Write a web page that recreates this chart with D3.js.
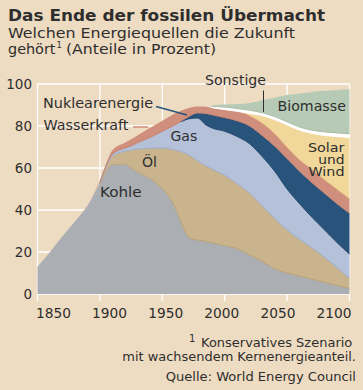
<!DOCTYPE html>
<html>
<head>
<meta charset="utf-8">
<script src="https://cdn.jsdelivr.net/npm/d3@7"></script>
<style>
  html, body { margin: 0; padding: 0; background: #eedcc2; }
  svg { display: block; font-family: "DejaVu Sans", Verdana, sans-serif; }
  text { fill: #2e2e2e; }
</style>
</head>
<body>
<svg id="chart" width="363" height="390"></svg>
<script>
// Jahre und Anteile (Prozent) je Energieträger
const years = [1850, 1860, 1870, 1880, 1890, 1900, 1910, 1920, 1925, 1930, 1940, 1950, 1960, 1965, 1972, 1978, 1985, 1990, 2000, 2010, 2020, 2030, 2040, 2050, 2060, 2070, 2080, 2090, 2100];
const kohle      = [13, 20, 27.5, 34.5, 42, 52.5, 61.5, 61.8, 60, 58, 55, 50, 41.5, 34, 26.5, 25.7, 25, 24.3, 23, 21.5, 18.5, 15.5, 12, 10, 8.5, 7, 5.5, 4, 2.7];
const oel        = [0, 0, 0, 0, 0, 0.5, 4, 6.2, 8.5, 11, 14.4, 19.5, 27.1, 33.8, 39.5, 37.8, 36, 35.2, 33.5, 31, 29.5, 26.5, 24, 20.5, 17.5, 15, 12, 8.5, 4.8];
const gas        = [0, 0, 0, 0, 0, 0.3, 1, 1.5, 2, 3, 5.1, 8, 11.9, 14.2, 17.5, 20.3, 19.5, 19.5, 21, 22.5, 23.5, 23.5, 22.5, 19.5, 17, 14.5, 13, 12, 11.5];
const nuklear    = [0, 0, 0, 0, 0, 0, 0, 0, 0, 0, 0, 0, 0, 0.3, 1.3, 2.4, 5.5, 6.3, 6.5, 7.5, 8.5, 10, 12, 14.5, 15.5, 16.5, 17.5, 18.5, 19.5];
const wasser     = [0, 0, 0, 0, 0, 0.7, 2, 2.5, 3.2, 3.5, 4.5, 5, 5.5, 5, 3.9, 3.1, 3.3, 3.4, 3.8, 4.5, 5, 6, 6, 5.5, 5.5, 6.5, 6.5, 7, 7];
const solarWind  = [0, 0, 0, 0, 0, 0, 0, 0, 0, 0, 0, 0, 0, 0, 0, 0, 0, 0, 0, 0, 1, 3.5, 6.5, 10.5, 14, 17, 21, 25, 29];
const sonstige   = [0, 0, 0, 0, 0, 0, 0, 0, 0, 0, 0, 0, 0, 0, 0, 0, 0, 0.6, 1.2, 1.3, 1.5, 1.3, 1.5, 1.5, 1.5, 1.5, 1.7, 1.7, 1.8];
const biomasse   = [0, 0, 0, 0, 0, 0, 0, 0, 0, 0, 0, 0, 0, 0, 0, 0, 0, 0.5, 1.2, 2.2, 3.5, 6, 9, 12.8, 16, 18.2, 19.6, 20.5, 21.2];

const keys = ["Kohle", "Öl", "Gas", "Nuklearenergie", "Wasserkraft", "Solar und Wind", "Sonstige", "Biomasse"];
const seriesValues = [kohle, oel, gas, nuklear, wasser, solarWind, sonstige, biomasse];
const colors = ["#abaeb3", "#c9b48e", "#b4c1d9", "#28537b", "#d08f7c", "#f2d79a", "#ffffff", "#b7cab5"];
const edgeColors = ["#9c9fa5", "#b8a27c", "#9eadc8", "#234a70", "#c58270", "#e8cb88", "#ffffff", "#aabfa8"];

const xTicks = [1850, 1900, 1950, 2000, 2050, 2100];
const yTicks = [0, 20, 40, 60, 80, 100];

const table = years.map((yr, i) => {
  const row = { year: yr };
  keys.forEach((k, j) => (row[k] = seriesValues[j][i]));
  return row;
});

const svg = d3.select("#chart");
const x = d3.scaleLinear().domain([1850, 2100]).range([37.5, 349.5]);
const y = d3.scaleLinear().domain([0, 100]).range([294, 84]);
// Jahreszahlen stehen gleichmäßig verteilt, nicht exakt unter den Strichen
const xLabel = d3.scaleLinear().domain([1850, 2100]).range([53.5, 334]);

/** Stretch a text to the width it has in the original (Verdana is wider). */
function fit(sel, width) {
  return sel.attr("textLength", width).attr("lengthAdjust", "spacingAndGlyphs");
}

/* --- Titel --- */
fit(svg.append("text").attr("x", 8).attr("y", 21)
  .style("font-weight", "bold").style("font-size", "16px")
  .text("Das Ende der fossilen Übermacht"), 317);
fit(svg.append("text").attr("x", 8).attr("y", 38)
  .style("font-size", "14px")
  .text("Welchen Energiequellen die Zukunft"), 287);
fit(svg.append("text").attr("x", 8).attr("y", 53.5)
  .style("font-size", "14px").text("gehört"), 47.5);
svg.append("text").attr("x", 56.5).attr("y", 47.5)
  .style("font-size", "8.5px").text("1");
fit(svg.append("text").attr("x", 66).attr("y", 53.5)
  .style("font-size", "14px").text("(Anteile in Prozent)"), 150);

/* --- Gitter --- */
const grid = svg.append("g").attr("stroke", "#fff").attr("stroke-width", 1.3);
grid.selectAll("line.h").data(yTicks).join("line")
  .attr("x1", x(1850)).attr("x2", x(2100))
  .attr("y1", (d) => y(d)).attr("y2", (d) => y(d));
grid.selectAll("line.v").data(xTicks).join("line")
  .attr("x1", (d) => x(d)).attr("x2", (d) => x(d))
  .attr("y1", y(100)).attr("y2", y(0) + 7);

/* --- Flächen --- */
const stack = d3.stack().keys(keys);
const layers = stack(table);
const area = d3.area()
  .x((d) => x(d.data.year))
  .y0((d) => y(d[0]))
  .y1((d) => y(d[1]))
  .curve(d3.curveMonotoneX);
const lowerEdge = d3.line()
  .defined((d) => d[1] - d[0] > 0.05)
  .x((d) => x(d.data.year))
  .y((d) => y(d[0]))
  .curve(d3.curveMonotoneX);

svg.append("g").selectAll("path").data(layers).join("path")
  .attr("d", area)
  .attr("fill", (d, i) => colors[i]);
svg.append("g").selectAll("path").data(layers.slice(1)).join("path")
  .attr("d", lowerEdge)
  .attr("fill", "none")
  .attr("stroke", (d, i) => edgeColors[i + 1])
  .attr("stroke-width", 1);

/* --- Achsen --- */
svg.append("g").selectAll("text").data(yTicks).join("text")
  .attr("x", 32).attr("y", (d) => y(d)).attr("dy", "0.36em")
  .attr("text-anchor", "end").style("font-size", "13.5px")
  .text((d) => d);
svg.append("g").selectAll("text").data(xTicks).join("text")
  .attr("x", (d) => xLabel(d) - 17.5).attr("y", 318)
  .style("font-size", "13.5px")
  .text((d) => d)
  .each(function () { fit(d3.select(this), 35); });

/* --- Beschriftungen --- */
const lab = svg.append("g").style("font-size", "13.5px");
const labels = [
  ["Kohle", 100, 196.5, 41.7],
  ["Öl", 142, 166.5, 15],
  ["Gas", 170.5, 141, 26.7],
  ["Nuklearenergie", 43, 108, 110],
  ["Wasserkraft", 43.5, 130, 85],
  ["Sonstige", 205, 84.5, 61],
  ["Biomasse", 277.5, 110.5, 68.4],
];
labels.forEach(([t, lx, ly, w]) =>
  fit(lab.append("text").attr("x", lx).attr("y", ly).text(t), w));
[["Solar", 36.6], ["und", 26.3], ["Wind", 36]].forEach(([t, w], i) =>
  fit(lab.append("text").attr("x", 344.5 - w).attr("y", 151.5 + i * 12.1)
    .style("font-size", "13px").text(t), w));

svg.append("line").attr("x1", 156).attr("y1", 106.5).attr("x2", 187).attr("y2", 115)
  .attr("stroke", "#28537b").attr("stroke-width", 1.5);
svg.append("line").attr("x1", 133).attr("y1", 127).attr("x2", 148).attr("y2", 127)
  .attr("stroke", "#d08f7c").attr("stroke-width", 1.5);
svg.append("line").attr("x1", 263.5).attr("y1", 90.5).attr("x2", 263.5).attr("y2", 112)
  .attr("stroke", "#2e2e2e").attr("stroke-width", 1);

/* --- Fußnote --- */
const foot = svg.append("g").style("font-size", "12px");
foot.append("text").attr("x", 189).attr("y", 341.5).style("font-size", "10px").text("1");
fit(foot.append("text").attr("x", 201).attr("y", 347.3).text("Konservatives Szenario"), 151.3);
fit(foot.append("text").attr("x", 122.3).attr("y", 361).text("mit wachsendem Kernenergieanteil."), 233.7);
fit(foot.append("text").attr("x", 165.7).attr("y", 380.5).text("Quelle: World Energy Council"), 190.3);
</script>
</body>
</html>
